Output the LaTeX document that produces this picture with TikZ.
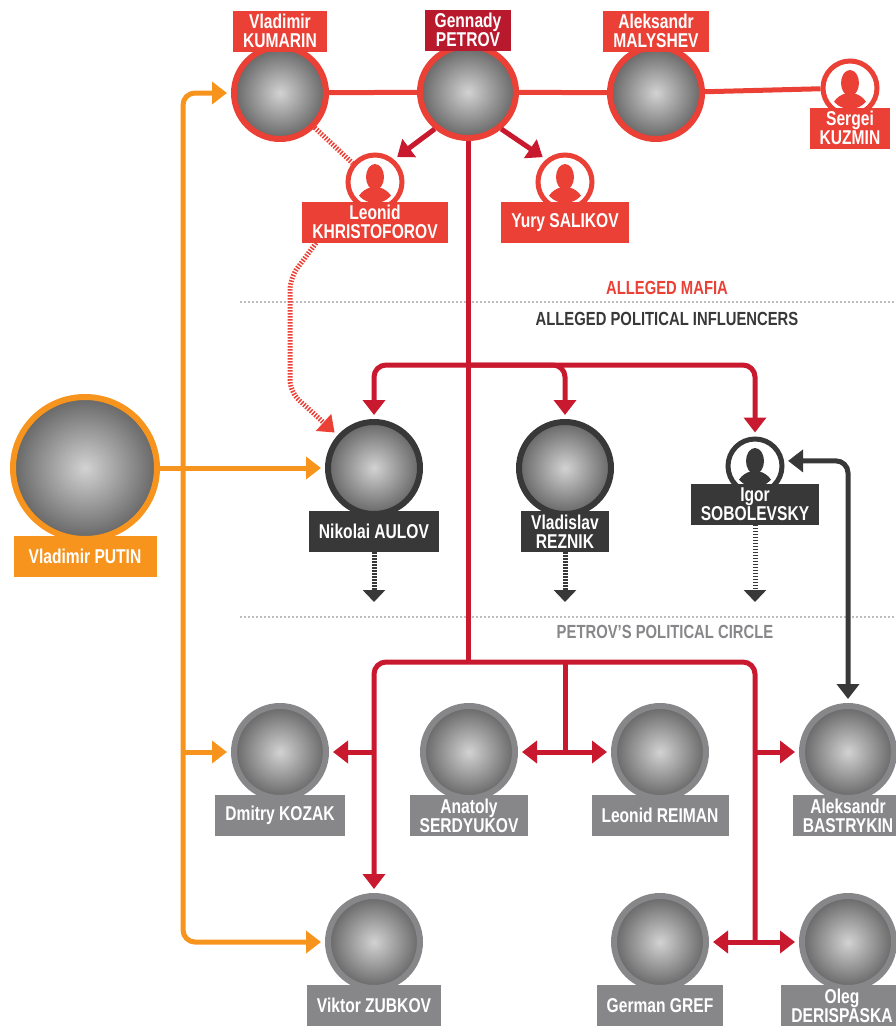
\documentclass[tikz,border=0pt]{standalone}
\usepackage{fontspec}
\setmainfont{Liberation Sans}[FakeStretch=0.78]
\usepackage{xcolor}
\usetikzlibrary{positioning,arrows.meta,shapes.geometric}

\definecolor{mafiared}{HTML}{EA4035}
\definecolor{linered}{HTML}{C8192E}
\definecolor{petrovred}{HTML}{B8192C}
\definecolor{putinorange}{HTML}{F7941D}
\definecolor{infdark}{HTML}{383838}
\definecolor{circlegrey}{HTML}{87878A}
\definecolor{sepgrey}{HTML}{BDBDBD}

% head and shoulders inside a ring node
\newcommand\silhouette[2]{%
  \begin{scope}
    \clip (#1.center) circle (21pt);
    \fill[#2] ([yshift=5pt]#1.center) ellipse (9pt and 13pt);
    \fill[#2] ([yshift=-24pt]#1.center) ellipse (19pt and 19pt);
  \end{scope}}

\begin{document}
\begin{tikzpicture}[x=1pt,y=-1pt,
  every node/.style={font=\bfseries\fontsize{20}{19}\selectfont,align=center},
  photo/.style={ellipse,draw,line width=6pt,minimum width=92pt,minimum height=92pt,
    inner color=gray!35,outer color=black!60},
  ring/.style={circle,line width=5pt,fill=white,minimum size=54pt},
  namebox/.style={text=white,inner xsep=10pt,inner ysep=2pt,minimum height=41pt},
  redline/.style={linered,line width=5pt},
  redarrow/.style={redline,-{Triangle[width=22pt,length=15pt]},shorten >=4pt},
  orangearrow/.style={putinorange,line width=5pt,-{Triangle[width=22pt,length=15pt]},shorten >=4pt},
  darkarrow/.style={infdark,line width=5pt,{Triangle[width=22pt,length=15pt]}-{Triangle[width=22pt,length=15pt]},shorten >=4pt,shorten <=4pt},
  hatchred/.style={mafiared,line width=5pt,dash pattern=on 1.5pt off 1.5pt},
  hatchdark/.style={infdark,line width=5pt,dash pattern=on 1.5pt off 1.5pt,
    -{Triangle[width=22pt,length=12pt]}},
  sepline/.style={sepgrey,line width=2pt,dash pattern=on 2pt off 2pt},
  heading/.style={font=\bfseries\fontsize{19}{19}\selectfont}]

\useasboundingbox (0,0) rectangle (896,1028);
\clip (0,0) rectangle (896,1028);

% separators
\coordinate (sep1l) at (240,302);
\coordinate (sep1r) at (896,302);
\coordinate (sep2l) at (240,617);
\coordinate (sep2r) at (896,617);
\draw[sepline] (sep1l) -- (sep1r);
\draw[sepline] (sep2l) -- (sep2r);
\node[heading,text=mafiared] (mafiatext) at (667,288) {ALLEGED MAFIA};
\node[heading,text=infdark] (influtext) at (667,319) {ALLEGED POLITICAL INFLUENCERS};
\node[heading,text=circlegrey] (circletext) at (665,632) {PETROV’S POLITICAL CIRCLE};

% alleged mafia
\node[photo,mafiared] (kumarin) at (280,93) {};
\node[namebox,fill=mafiared,above=-8pt of kumarin] (kumarinlab) {Vladimir\\KUMARIN};
\node[photo,mafiared,minimum width=96pt] (petrov) at (468,92) {};
\node[namebox,fill=petrovred,above=-8pt of petrov] (petrovlab) {Gennady\\PETROV};
\node[photo,mafiared] (malyshev) at (656,93) {};
\node[namebox,fill=mafiared,above=-8pt of malyshev] (malyshevlab) {Aleksandr\\MALYSHEV};
\node[ring,draw=mafiared] (kuzmin) at (850,88) {};
\silhouette{kuzmin}{mafiared}
\node[namebox,fill=mafiared,below=-10pt of kuzmin] (kuzminlab) {Sergei\\KUZMIN};
\node[ring,draw=mafiared] (khristoforov) at (375,182) {};
\silhouette{khristoforov}{mafiared}
\node[namebox,fill=mafiared,below=-10pt of khristoforov] (khristoforovlab) {Leonid\\KHRISTOFOROV};
\node[ring,draw=mafiared] (salikov) at (565,182) {};
\silhouette{salikov}{mafiared}
\node[namebox,fill=mafiared,below=-10pt of salikov] (salikovlab) {Yury SALIKOV};

% alleged political influencers
\node[photo,putinorange,minimum width=144pt,minimum height=142pt] (putin) at (85,468) {};
\node[namebox,fill=putinorange,below=-6pt of putin,minimum width=143pt] (putinlab) {Vladimir PUTIN};
\node[photo,infdark] (aulov) at (374,468) {};
\node[namebox,fill=infdark,below=-6pt of aulov] (aulovlab) {Nikolai AULOV};
\node[photo,infdark] (reznik) at (565,468) {};
\node[namebox,fill=infdark,below=-6pt of reznik] (rezniklab) {Vladislav\\REZNIK};
\node[ring,draw=infdark] (sobolevsky) at (755,466) {};
\silhouette{sobolevsky}{infdark}
\node[namebox,fill=infdark,below=-12pt of sobolevsky] (sobolevskylab) {Igor\\SOBOLEVSKY};

% petrov's political circle
\node[photo,circlegrey] (kozak) at (280,752) {};
\node[namebox,fill=circlegrey,below=-6pt of kozak] (kozaklab) {Dmitry KOZAK};
\node[photo,circlegrey] (serdyukov) at (469,752) {};
\node[namebox,fill=circlegrey,below=-6pt of serdyukov] (serdyukovlab) {Anatoly\\SERDYUKOV};
\node[photo,circlegrey] (reiman) at (660,752) {};
\node[namebox,fill=circlegrey,below=-6pt of reiman] (reimanlab) {Leonid REIMAN};
\node[photo,circlegrey] (bastrykin) at (848,752) {};
\node[namebox,fill=circlegrey,below=-6pt of bastrykin] (bastrykinlab) {Aleksandr\\BASTRYKIN};
\node[photo,circlegrey] (zubkov) at (374,942) {};
\node[namebox,fill=circlegrey,below=-6pt of zubkov] (zubkovlab) {Viktor ZUBKOV};
\node[photo,circlegrey] (gref) at (660,942) {};
\node[namebox,fill=circlegrey,below=-6pt of gref] (greflab) {German GREF};
\node[photo,circlegrey] (deripaska) at (848,942) {};
\node[namebox,fill=circlegrey,below=-6pt of deripaska,xshift=-6pt] (deripaskalab) {Oleg\\DERISPASKA};

% mafia links
\draw[mafiared,line width=5pt] (kumarin) -- (petrov) -- (malyshev) -- (kuzmin);
\draw[redarrow] (petrov.-132) -- (khristoforov.50);
\draw[redarrow] (petrov.-48) -- (salikov.130);
\draw[hatchred] (kumarin.-45) -- (khristoforov.140);
\draw[hatchred,-{Triangle[width=22pt,length=15pt]},rounded corners=12pt,shorten >=4pt]
  ([xshift=14pt]khristoforovlab.south west) -- (290,278) -- (290,392) -- (aulov.138);

% petrov's lines
\coordinate (infl) at (468,365);
\coordinate (circ) at (468,662);
\draw[redline] (petrov) -- (circ);
\draw[redarrow,rounded corners=12pt] (infl) -| (aulov.north);
\draw[redarrow,rounded corners=12pt] (infl) -| (reznik.north);
\draw[redarrow,rounded corners=12pt] (infl) -| (sobolevsky.north);
\draw[redarrow,rounded corners=12pt] (circ) -| (zubkov.north);
\coordinate (rightspine) at (755,942);
\coordinate (midfork) at (565,752);
\draw[redline,rounded corners=12pt] (circ) -| (rightspine);
\draw[redline] (circ -| midfork) -- (midfork);
\draw[redarrow] (kozak.east -| zubkov) -- (kozak.east);
\draw[redarrow] (midfork) -- (serdyukov.east);
\draw[redarrow] (midfork) -- (reiman.west);
\draw[redarrow] (bastrykin.west -| rightspine) -- (bastrykin.west);
\draw[redarrow] (rightspine) -- (gref.east);
\draw[redarrow] (rightspine) -- (deripaska.west);

% putin's lines
\coordinate (ospine) at (183,468);
\draw[orangearrow,rounded corners=12pt] (ospine) |- (kumarin.west);
\draw[orangearrow,rounded corners=12pt] (ospine) |- (zubkov.west);
\draw[orangearrow] (putin.east) -- (aulov.west);
\draw[orangearrow] (kozak.west -| ospine) -- (kozak.west);

% influencers onward
\coordinate (aulovout) at (374,602);
\coordinate (reznikout) at (565,602);
\coordinate (sobolevskyout) at (755,602);
\draw[hatchdark] (aulovlab) -- (aulovout);
\draw[hatchdark] (rezniklab) -- (reznikout);
\draw[hatchdark] (sobolevskylab) -- (sobolevskyout);
\draw[darkarrow,rounded corners=12pt] (sobolevsky.10) -| (bastrykin.north);
\end{tikzpicture}
\end{document}
